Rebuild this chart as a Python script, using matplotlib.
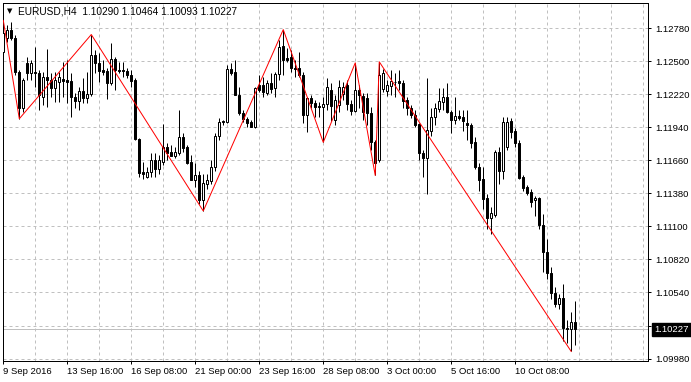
import matplotlib
matplotlib.use("Agg")
import matplotlib.pyplot as plt
from matplotlib.ticker import MultipleLocator
import numpy as np

# --- data (EURUSD H4) ---
opens = [1.12578, 1.12696, 1.12763, 1.12696, 1.12409, 1.12106, 1.12485, 1.12401, 1.12409, 1.12401,
         1.12198, 1.12367, 1.12342, 1.12274, 1.12325, 1.12350, 1.12342, 1.12334, 1.12198, 1.12165,
         1.12249, 1.12190, 1.12224, 1.12552, 1.12485, 1.12426, 1.12418, 1.12317, 1.12519, 1.12426,
         1.12426, 1.12418, 1.12384, 1.12342, 1.11844, 1.11558, 1.11515, 1.11558, 1.11667, 1.11583,
         1.11650, 1.11777, 1.11735, 1.11693, 1.11726, 1.11861, 1.11777, 1.11650, 1.11490, 1.11532,
         1.11322, 1.11456, 1.11482, 1.11600, 1.11870, 1.11996, 1.11988, 1.12435, 1.12409, 1.12215,
         1.12063, 1.12013, 1.11988, 1.11945, 1.12300, 1.12300, 1.12232, 1.12317, 1.12274, 1.12392,
         1.12628, 1.12527, 1.12536, 1.12443, 1.12443, 1.12384, 1.12047, 1.12190, 1.12148, 1.12122,
         1.12114, 1.12139, 1.12257, 1.12004, 1.12131, 1.12224, 1.12300, 1.12139, 1.12080, 1.12257,
         1.12207, 1.12190, 1.12063, 1.11819, 1.11667, 1.12266, 1.12249, 1.12291, 1.12325, 1.12334,
         1.12317, 1.12173, 1.12106, 1.12047, 1.11971, 1.11726, 1.11684, 1.11912, 1.12030, 1.12097,
         1.12156, 1.12198, 1.12072, 1.12004, 1.12038, 1.12030, 1.11979, 1.11962, 1.11819, 1.11608,
         1.11499, 1.11339, 1.11170, 1.11195, 1.11735, 1.11566, 1.11777, 1.11996, 1.11912, 1.11811,
         1.11515, 1.11431, 1.11389, 1.11322, 1.11339, 1.11111, 1.10883, 1.10706, 1.10538, 1.10445,
         1.10495, 1.10243, 1.10234, 1.10290]
highs = [1.12847, 1.12805, 1.12831, 1.12721, 1.12426, 1.12359, 1.12536, 1.12510, 1.12620, 1.12426,
         1.12409, 1.12603, 1.12401, 1.12409, 1.12409, 1.12493, 1.12510, 1.12401, 1.12232, 1.12283,
         1.12359, 1.12409, 1.12727, 1.12595, 1.12569, 1.12510, 1.12443, 1.12654, 1.12536, 1.12493,
         1.12493, 1.12443, 1.12426, 1.12359, 1.11852, 1.11650, 1.11608, 1.11726, 1.11726, 1.11709,
         1.11971, 1.11811, 1.11794, 1.11777, 1.12089, 1.11895, 1.11794, 1.11709, 1.11642, 1.11566,
         1.11541, 1.11541, 1.11667, 1.11895, 1.12021, 1.12004, 1.12468, 1.12485, 1.12510, 1.12283,
         1.12089, 1.12030, 1.12004, 1.12283, 1.12384, 1.12367, 1.12342, 1.12401, 1.12409, 1.12679,
         1.12769, 1.12612, 1.12595, 1.12510, 1.12578, 1.12409, 1.12198, 1.12215, 1.12173, 1.12156,
         1.12198, 1.12359, 1.12317, 1.12215, 1.12342, 1.12325, 1.12342, 1.12173, 1.12487, 1.12300,
         1.12232, 1.12232, 1.12114, 1.11836, 1.12496, 1.12435, 1.12342, 1.12426, 1.12401, 1.12426,
         1.12342, 1.12198, 1.12131, 1.12089, 1.11979, 1.11752, 1.12359, 1.12106, 1.12148, 1.12274,
         1.12274, 1.12317, 1.12089, 1.12198, 1.12089, 1.12089, 1.12089, 1.11979, 1.11861, 1.11642,
         1.11608, 1.11372, 1.11263, 1.11752, 1.11777, 1.12030, 1.12030, 1.12021, 1.11937, 1.11836,
         1.11532, 1.11448, 1.11414, 1.11355, 1.11347, 1.11204, 1.10993, 1.10757, 1.10588, 1.10529,
         1.10613, 1.10310, 1.10377, 1.10464]
lows = [1.12552, 1.12662, 1.12679, 1.12384, 1.12013, 1.12072, 1.12342, 1.12342, 1.12283, 1.12089,
        1.12131, 1.12114, 1.12198, 1.12156, 1.12156, 1.12198, 1.12148, 1.12030, 1.12106, 1.12089,
        1.12148, 1.12148, 1.12207, 1.12401, 1.12325, 1.12384, 1.12181, 1.12300, 1.12257, 1.12401,
        1.12367, 1.12359, 1.12283, 1.11836, 1.11515, 1.11499, 1.11507, 1.11515, 1.11515, 1.11541,
        1.11625, 1.11667, 1.11693, 1.11684, 1.11709, 1.11735, 1.11633, 1.11490, 1.11431, 1.11288,
        1.11231, 1.11414, 1.11456, 1.11566, 1.11836, 1.11962, 1.11979, 1.12384, 1.12215, 1.12047,
        1.11988, 1.11945, 1.11945, 1.11937, 1.12241, 1.12198, 1.12215, 1.12232, 1.12198, 1.12342,
        1.12384, 1.12493, 1.12409, 1.12367, 1.12367, 1.11979, 1.11903, 1.12106, 1.12030, 1.12030,
        1.11813, 1.12089, 1.11996, 1.11962, 1.12072, 1.12173, 1.12089, 1.12047, 1.12072, 1.12106,
        1.12004, 1.11962, 1.11752, 1.11532, 1.11650, 1.12241, 1.12207, 1.12215, 1.12198, 1.12257,
        1.12106, 1.12047, 1.12021, 1.11945, 1.11667, 1.11515, 1.11372, 1.11870, 1.11962, 1.12072,
        1.12089, 1.12063, 1.11895, 1.11971, 1.12004, 1.11912, 1.11836, 1.11768, 1.11583, 1.11397,
        1.11246, 1.11077, 1.11035, 1.11178, 1.11456, 1.11499, 1.11752, 1.11853, 1.11777, 1.11499,
        1.11397, 1.11364, 1.11263, 1.11187, 1.11077, 1.10715, 1.10656, 1.10487, 1.10420, 1.10403,
        1.10125, 1.10108, 1.10040, 1.10093]
closes = [1.12738, 1.12763, 1.12696, 1.12409, 1.12106, 1.12342, 1.12401, 1.12485, 1.12401, 1.12215,
          1.12367, 1.12342, 1.12274, 1.12342, 1.12367, 1.12334, 1.12325, 1.12198, 1.12165, 1.12249,
          1.12190, 1.12224, 1.12552, 1.12485, 1.12418, 1.12409, 1.12317, 1.12519, 1.12426, 1.12418,
          1.12418, 1.12384, 1.12334, 1.11844, 1.11549, 1.11541, 1.11558, 1.11667, 1.11591, 1.11667,
          1.11777, 1.11726, 1.11701, 1.11735, 1.11861, 1.11768, 1.11642, 1.11490, 1.11532, 1.11322,
          1.11465, 1.11490, 1.11600, 1.11870, 1.11988, 1.11988, 1.12435, 1.12401, 1.12215, 1.12063,
          1.12013, 1.11979, 1.11945, 1.12274, 1.12257, 1.12241, 1.12317, 1.12266, 1.12392, 1.12620,
          1.12510, 1.12510, 1.12443, 1.12435, 1.12384, 1.12047, 1.12190, 1.12148, 1.12114, 1.12114,
          1.12139, 1.12283, 1.12122, 1.12173, 1.12283, 1.12283, 1.12139, 1.12080, 1.12257, 1.12215,
          1.12072, 1.12063, 1.11819, 1.11642, 1.12384, 1.12401, 1.12300, 1.12334, 1.12325, 1.12317,
          1.12165, 1.12106, 1.12047, 1.11962, 1.11726, 1.11684, 1.11920, 1.12030, 1.12106, 1.12165,
          1.12198, 1.12072, 1.12004, 1.12038, 1.12021, 1.11996, 1.11962, 1.11811, 1.11608, 1.11490,
          1.11330, 1.11170, 1.11212, 1.11735, 1.11566, 1.11988, 1.11988, 1.11903, 1.11811, 1.11507,
          1.11423, 1.11381, 1.11305, 1.11339, 1.11111, 1.10883, 1.10706, 1.10538, 1.10445, 1.10495,
          1.10243, 1.10234, 1.10290, 1.10227]

# zigzag turning points (bar index, price)
zz_bars = [0, 4, 22, 50, 70, 80, 88, 93, 94, 142]
zz_prices = [1.12847, 1.12013, 1.12727, 1.11231, 1.12769, 1.11813, 1.12487, 1.11532, 1.12496, 1.10040]

date_bars = [0, 16, 32, 48, 64, 80, 96, 112, 128]
date_labels = ['9 Sep 2016', '13 Sep 16:00', '16 Sep 08:00', '21 Sep 00:00', '23 Sep 16:00',
               '28 Sep 08:00', '3 Oct 00:00', '5 Oct 16:00', '10 Oct 08:00']
price_ticks = [1.09980, 1.10260, 1.10540, 1.10820, 1.11100, 1.11380, 1.11660,
               1.11940, 1.12220, 1.12500, 1.12780]
symbol = 'EURUSD,H4'
last_price = closes[-1]

# --- figure ---
px = 0.72  # one pixel in points at dpi 100
lab_font = ['Liberation Sans Narrow', 'Liberation Sans', 'DejaVu Sans']
lab_size = 6.8

fig = plt.figure(figsize=(6.91, 3.82), dpi=100)
fig.patch.set_facecolor('white')
ax = fig.add_axes([2.7 / 691, 21 / 382, 645.3 / 691, 358.3 / 382])

o = np.array(opens)
h = np.array(highs)
l = np.array(lows)
c = np.array(closes)
x = np.arange(len(o))
up = c >= o

# grid
grid_kw = dict(color='#c0c0c0', lw=px, ls=(0, (3, 3)))
ax.set_yticks(price_ticks)
ax.xaxis.set_minor_locator(MultipleLocator(8))
ax.set_xticks(date_bars)
ax.grid(True, which='both', axis='x', **grid_kw)
ax.grid(True, which='major', axis='y', **grid_kw)
ax.set_axisbelow(True)

# last price line
ax.axhline(last_price, color='#c0c0c0', lw=px, zorder=1)

# candles
ax.vlines(x, l, h, color='black', lw=px, zorder=2)
ax.bar(x[up], (c - o)[up], bottom=o[up], width=0.5, color='white',
       edgecolor='black', lw=px, zorder=3)
ax.bar(x[~up], (o - c)[~up], bottom=c[~up], width=0.5, color='black',
       edgecolor='black', lw=px, zorder=3)

# zigzag
ax.plot(zz_bars, zz_prices, color='#ff0000', lw=px, zorder=4)

ax.set_xlim(-0.15, 161.2)
ax.set_ylim(1.09959, 1.12997)

for s in ax.spines.values():
    s.set_linewidth(px)
    s.set_color('black')

ax.yaxis.tick_right()
ax.set_yticklabels(['%.5f' % p for p in price_ticks])
ax.set_xticklabels(date_labels)
ax.tick_params(axis='y', which='major', direction='out', length=2.2, width=px,
               pad=3.0, labelsize=lab_size, colors='black')
ax.tick_params(axis='x', which='major', direction='out', length=2.2, width=px,
               pad=2.0, labelsize=lab_size, colors='black')
ax.tick_params(axis='x', which='minor', length=0)
for t in ax.get_xticklabels() + ax.get_yticklabels():
    t.set_family(lab_font)
for t in ax.get_xticklabels():
    t.set_ha('left')

# last price box
ax.annotate('%.5f' % last_price, xy=(1, last_price), xycoords=ax.get_yaxis_transform(),
            xytext=(4.6, 0), textcoords='offset points', ha='left', va='center',
            color='white', fontsize=lab_size, family=lab_font, annotation_clip=False,
            bbox=dict(boxstyle='square,pad=0.25', fc='black', ec='black'), zorder=10)

# header
fig.text(7 / 691, 1 - 11 / 382, '\u25bc', fontsize=5, va='center', ha='left',
         family='DejaVu Sans', color='black')
fig.text(18 / 691, 1 - 11 / 382,
         '%s  %.5f %.5f %.5f %.5f' % (symbol, opens[-1], highs[-1], lows[-1], closes[-1]),
         fontsize=7.3, va='center', ha='left', family=['Liberation Sans', 'DejaVu Sans'],
         color='black')

fig.savefig('out.png', dpi=100)
